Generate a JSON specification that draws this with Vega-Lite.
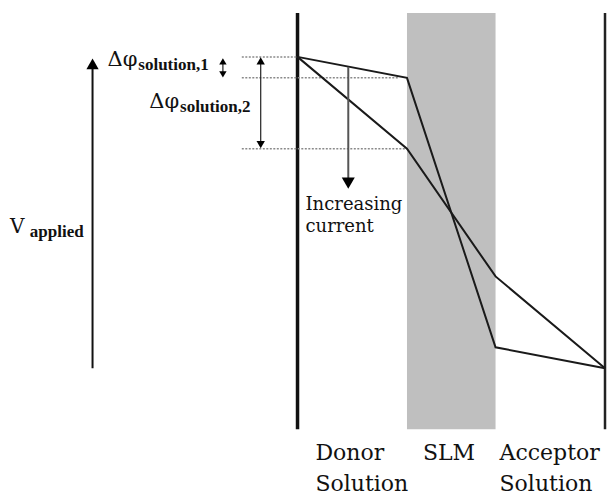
{
  "$schema": "https://vega.github.io/schema/vega-lite/v6.json",
  "width": 609,
  "height": 495,
  "autosize": {"type": "fit", "contains": "padding"},
  "padding": 0,
  "background": "white",
  "config": {"view": {"stroke": null}},
  "datasets": {
    "membrane": [{"x": 409, "x2": 498, "y": 13, "y2": 430}],
    "walls": [
      {"side": "donor", "x": 299, "y": 13, "y2": 430},
      {"side": "acceptor", "x": 608, "y": 13, "y2": 430}
    ],
    "levels": [
      {"level": "start", "x": 243, "x2": 299, "y": 57},
      {"level": "low", "x": 243, "x2": 400, "y": 78},
      {"level": "high", "x": 243, "x2": 409, "y": 149}
    ],
    "profiles": [
      {"current": "low", "x": 299, "y": 57},
      {"current": "low", "x": 409, "y": 78},
      {"current": "low", "x": 498, "y": 348},
      {"current": "low", "x": 608, "y": 369},
      {"current": "high", "x": 299, "y": 57},
      {"current": "high", "x": 409, "y": 149},
      {"current": "high", "x": 498, "y": 277},
      {"current": "high", "x": 608, "y": 369}
    ],
    "shafts": [
      {"arrow": "V", "x": 93, "y": 66, "y2": 369},
      {"arrow": "d2", "x": 262, "y": 60, "y2": 146},
      {"arrow": "d1", "x": 224, "y": 62, "y2": 74}
    ],
    "currentShaft": [{"x": 350, "y": 67, "y2": 180}],
    "headsUp": [
      {"arrow": "V", "x": 93, "y": 64, "s": "big"},
      {"arrow": "d2", "x": 262, "y": 61, "s": "mid"},
      {"arrow": "d1", "x": 224, "y": 61.5, "s": "small"}
    ],
    "headsDown": [
      {"arrow": "current", "x": 350, "y": 183.5, "s": "big"},
      {"arrow": "d2", "x": 262, "y": 145, "s": "mid"},
      {"arrow": "d1", "x": 224, "y": 74.5, "s": "small"}
    ],
    "bigSymbols": [
      {"t": "Δφ", "x": 108, "y": 66},
      {"t": "Δφ", "x": 150, "y": 108}
    ],
    "vSymbol": [{"t": "V", "x": 10, "y": 233}],
    "subscripts": [
      {"t": "solution,1", "x": 139, "y": 70},
      {"t": "solution,2", "x": 181, "y": 112},
      {"t": "applied", "x": 30, "y": 237}
    ],
    "notes": [
      {"t": "Increasing", "x": 307, "y": 210},
      {"t": "current", "x": 307, "y": 232}
    ],
    "regions": [
      {"t": "Donor", "x": 317, "y": 461},
      {"t": "Solution", "x": 317, "y": 492},
      {"t": "SLM", "x": 425, "y": 461},
      {"t": "Acceptor", "x": 502, "y": 461},
      {"t": "Solution", "x": 502, "y": 492}
    ]
  },
  "encoding": {
    "x": {"field": "x", "type": "quantitative", "scale": {"domain": [0, 609], "nice": false, "zero": false}, "axis": null},
    "y": {"field": "y", "type": "quantitative", "scale": {"domain": [495, 0], "nice": false, "zero": false}, "axis": null}
  },
  "layer": [
    {
      "data": {"name": "membrane"},
      "mark": {"type": "rect", "color": "#bfbfbf"},
      "encoding": {"x2": {"field": "x2"}, "y2": {"field": "y2"}}
    },
    {
      "data": {"name": "walls"},
      "transform": [{"filter": "datum.side == 'donor'"}],
      "mark": {"type": "rule", "color": "#111111", "strokeWidth": 3.5},
      "encoding": {"y2": {"field": "y2"}}
    },
    {
      "data": {"name": "walls"},
      "transform": [{"filter": "datum.side == 'acceptor'"}],
      "mark": {"type": "rule", "color": "#222222", "strokeWidth": 2.5},
      "encoding": {"y2": {"field": "y2"}}
    },
    {
      "data": {"name": "levels"},
      "mark": {"type": "rule", "color": "#8a8a8a", "strokeWidth": 1.5, "strokeDash": [2, 1.5]},
      "encoding": {"x2": {"field": "x2"}}
    },
    {
      "data": {"name": "profiles"},
      "mark": {"type": "line", "color": "#1a1a1a", "strokeWidth": 2},
      "encoding": {"detail": {"field": "current"}, "order": {"field": "x", "type": "quantitative"}}
    },
    {
      "data": {"name": "shafts"},
      "transform": [{"filter": "datum.arrow == 'V'"}],
      "mark": {"type": "rule", "color": "#111111", "strokeWidth": 2},
      "encoding": {"y2": {"field": "y2"}}
    },
    {
      "data": {"name": "shafts"},
      "transform": [{"filter": "datum.arrow != 'V'"}],
      "mark": {"type": "rule", "color": "#222222", "strokeWidth": 1.2},
      "encoding": {"y2": {"field": "y2"}}
    },
    {
      "data": {"name": "currentShaft"},
      "mark": {"type": "rule", "color": "#555555", "strokeWidth": 2},
      "encoding": {"y2": {"field": "y2"}}
    },
    {
      "data": {"name": "headsUp"},
      "transform": [{"filter": "datum.s == 'big'"}],
      "mark": {"type": "point", "shape": "triangle-up", "filled": true, "color": "#000000", "opacity": 1, "size": 150}
    },
    {
      "data": {"name": "headsUp"},
      "transform": [{"filter": "datum.s == 'mid'"}],
      "mark": {"type": "point", "shape": "triangle-up", "filled": true, "color": "#000000", "opacity": 1, "size": 70}
    },
    {
      "data": {"name": "headsUp"},
      "transform": [{"filter": "datum.s == 'small'"}],
      "mark": {"type": "point", "shape": "triangle-up", "filled": true, "color": "#000000", "opacity": 1, "size": 55}
    },
    {
      "data": {"name": "headsDown"},
      "transform": [{"filter": "datum.s == 'big'"}],
      "mark": {"type": "point", "shape": "triangle-down", "filled": true, "color": "#000000", "opacity": 1, "size": 170}
    },
    {
      "data": {"name": "headsDown"},
      "transform": [{"filter": "datum.s == 'mid'"}],
      "mark": {"type": "point", "shape": "triangle-down", "filled": true, "color": "#000000", "opacity": 1, "size": 70}
    },
    {
      "data": {"name": "headsDown"},
      "transform": [{"filter": "datum.s == 'small'"}],
      "mark": {"type": "point", "shape": "triangle-down", "filled": true, "color": "#000000", "opacity": 1, "size": 55}
    },
    {
      "data": {"name": "bigSymbols"},
      "mark": {"type": "text", "align": "left", "baseline": "alphabetic", "font": "DejaVu Serif", "fontSize": 21, "color": "#111111"},
      "encoding": {"text": {"field": "t"}}
    },
    {
      "data": {"name": "vSymbol"},
      "mark": {"type": "text", "align": "left", "baseline": "alphabetic", "font": "DejaVu Serif", "fontSize": 20, "color": "#111111"},
      "encoding": {"text": {"field": "t"}}
    },
    {
      "data": {"name": "subscripts"},
      "mark": {"type": "text", "align": "left", "baseline": "alphabetic", "font": "Liberation Serif", "fontWeight": "bold", "fontSize": 17, "color": "#111111"},
      "encoding": {"text": {"field": "t"}}
    },
    {
      "data": {"name": "notes"},
      "mark": {"type": "text", "align": "left", "baseline": "alphabetic", "font": "DejaVu Serif", "fontSize": 18, "color": "#111111"},
      "encoding": {"text": {"field": "t"}}
    },
    {
      "data": {"name": "regions"},
      "mark": {"type": "text", "align": "left", "baseline": "alphabetic", "font": "DejaVu Serif", "fontSize": 22, "color": "#111111"},
      "encoding": {"text": {"field": "t"}}
    }
  ]
}
